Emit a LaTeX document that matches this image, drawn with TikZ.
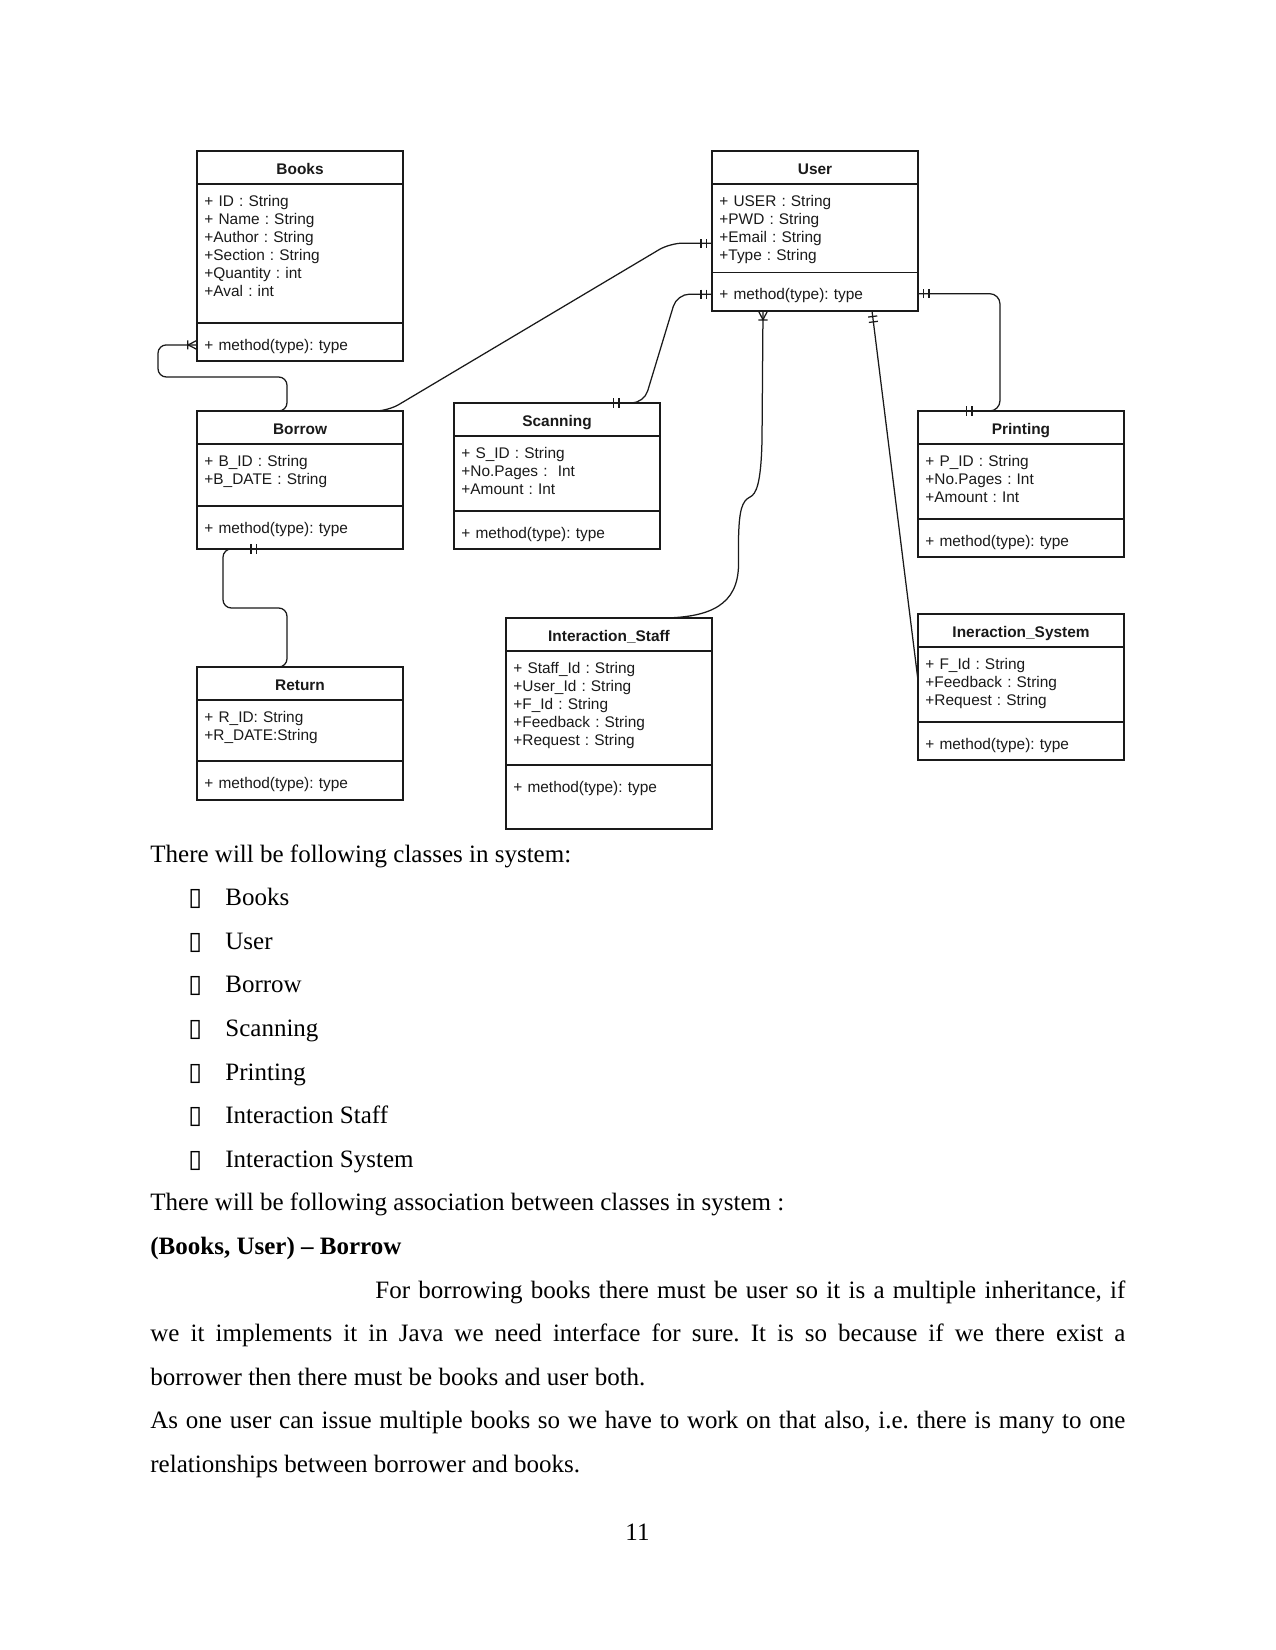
\documentclass[tikz,border=0pt]{standalone}
\usepackage{fontspec}
\setmainfont{Liberation Serif}
\newfontfamily\umlfont{Liberation Sans}
\newfontfamily\boxglyph{DejaVu Sans}
\usetikzlibrary{positioning,calc,decorations.markings}
\definecolor{ink}{HTML}{1A1A1A}
\hyphenpenalty=10000
\frenchspacing
\tikzset{
  clshead/.style={draw=ink,line width=0.6pt,outer sep=0pt,inner sep=0pt,
                  anchor=north west,minimum width=98.9pt,minimum height=15.8pt,
                  text height=7pt,text depth=0pt,text=ink,
                  font=\umlfont\bfseries\fontsize{7.4}{8.64}\selectfont},
  clsbox/.style ={draw=ink,line width=0.6pt,outer sep=0pt,inner sep=0pt,
                  minimum width=98.9pt},
  clstext/.style={anchor=base west,inner sep=0pt,text width=92pt,align=left,
                  text=ink,font=\umlfont\fontsize{7.4}{8.64}\selectfont},
  page/.style   ={anchor=base west,inner sep=0pt,text=black,
                  font=\fontsize{12}{20.9}\selectfont},
  rel/.style    ={draw=ink,line width=0.6pt},
  bars at/.style={postaction={decorate,decoration={markings,
                  mark=at position #1 with {\draw[rel,sharp corners] (0,-2.2pt) -- (0,2.2pt);}}}},
  one start/.style={bars at=2.7pt,bars at=5.3pt},
  one end/.style  ={bars at=-2.7pt,bars at=-5.3pt},
  many start/.style={postaction={decorate,decoration={markings,
                  mark=at position 4.2pt with {\draw[rel,sharp corners] (-4.2pt,2.2pt) -- (0,0) -- (-4.2pt,-2.2pt)
                  (0.2pt,-2.2pt) -- (0.2pt,2.2pt);}}}},
  many end/.style={postaction={decorate,decoration={markings,
                  mark=at position -4.2pt with {\draw[rel,sharp corners] (4.2pt,2.2pt) -- (0,0) -- (4.2pt,-2.2pt)
                  (-0.2pt,-2.2pt) -- (-0.2pt,2.2pt);}}}}
}
% name, top left, attribute height, method height (px), title, attributes
\newcommand{\umlclass}[6]{%
  \node[clshead] (#1) at #2 {#5};
  \node[clsbox,below=0pt of #1,minimum height=#3*0.48pt] (#1-a) {};
  \node[clsbox,below=0pt of #1-a,minimum height=#4*0.48pt] (#1-m) {};
  \node[clstext] (#1-at) at ($(#1-a.north west)+(7,23)$) {#6};
  \node[clstext] (#1-mt) at ($(#1-m.north west)+(7,27.5)$) {+ method(type): type};
}
\begin{document}
\begin{tikzpicture}[x=0.48pt,y=-0.48pt]
  \path[use as bounding box,fill=white] (0,0) rectangle (1275,1650);

  \umlclass{books}{(197,151)}{139}{38}{Books}{+ ID : String\\+ Name : String\\+Author : String\\+Section : String\\+Quantity : int\\+Aval : int}
  \umlclass{user}{(712,151)}{88.5}{38.5}{User}{+ USER : String\\+PWD : String\\+Email : String\\+Type : String}
  \umlclass{borrow}{(197,411)}{62}{43}{Borrow}{+ B\_ID : String\\+B\_DATE : String}
  \umlclass{scanning}{(454,403)}{75}{38}{Scanning}{+ S\_ID : String\\+No.Pages :~ Int\\+Amount : Int}
  \umlclass{printing}{(918,411)}{75}{38}{Printing}{+ P\_ID : String\\+No.Pages : Int\\+Amount : Int}
  \umlclass{staff}{(506,618)}{114}{64}{Interaction\_Staff}{+ Staff\_Id : String\\+User\_Id : String\\+F\_Id : String\\+Feedback : String\\+Request : String}
  \umlclass{system}{(918,614)}{75}{38}{Ineraction\_System}{+ F\_Id : String\\+Feedback : String\\+Request : String}
  \umlclass{return}{(197,667)}{61}{39}{Return}{+ R\_ID: String\\+R\_DATE:String}

  \draw[rel,many end,rounded corners=4pt] ($(borrow.north west)+(81,0)$) -| ($(borrow.north west)+(90,-34)$)
    -| ($(books-m.west)+(-39,3)$) -- ($(books-m.west)+(0,3)$);
  \draw[rel,one end,rounded corners=6pt] ($(borrow.north west)+(173,0)$) -- ($(borrow.north west)+(191,0)$)
    -- ($(user-a.west)+(-42,15)$) -- ($(user-a.west)+(0,15)$);
  \draw[rel,one start,one end,rounded corners=6pt] ($(user-m.west)+(0,2.5)$) -- ($(user-m.west)+(-35,2.5)$)
    -- ($(scanning.north west)+(190,0)$) -- ($(scanning.north west)+(154,0)$);
  \draw[rel,one start,one end,rounded corners=5pt] ($(user-m.east)+(0,2)$) -| ($(printing.north west)+(82,0)$)
    -- ($(printing.north west)+(43,0)$);
  \draw[rel,many start] ($(user-m.south west)+(51,0)$) -- (762,440)
    .. controls (761,485) and (756,494) .. (750,497)
    .. controls (742,501) and (739,510) .. (738.5,540) -- (738.5,565)
    .. controls (738,605) and (710,617) .. ($(staff.north west)+(159,0)$);
  \draw[rel,one start] ($(user-m.south west)+(160,0)$) -- ($(system-a.west)+(0,-4)$);
  \draw[rel,one end,rounded corners=4pt] ($(return.north west)+(81,0)$) -| ($(return.north west)+(90,-59)$)
    -| ($(borrow-m.south west)+(26,0)$) -- ($(borrow-m.south west)+(65,0)$);

  \node[page] (intro) at (150,862) {There will be following classes in system:};
  \foreach \cls [count=\i from 1] in {Books,User,Borrow,Scanning,Printing,Interaction Staff,Interaction System}{
    \node[page] (mark-\i) at (188,862+43.6*\i) {\boxglyph ▯};
    \node[page] (item-\i) at (225,862+43.6*\i) {\cls};
  }
  \node[page] (assoc) at (150,1210.8) {There will be following association between classes in system :};
  \node[page,font=\bfseries\fontsize{12}{20.9}\selectfont] (pair) at (150,1254.4) {(Books, User) – Borrow};
  \node[page,text width=468pt,align=justify] (para1) at (150,1298) {\hspace*{108pt}For borrowing books there must be user so it is a multiple inheritance, if\linebreak
    we it implements it in Java we need interface for sure. It is so because if we there exist a\linebreak
    borrower then there must be books and user both.};
  \node[page,text width=468pt,align=justify] (para2) at (150,1428.8) {As one user can issue multiple books so we have to work on that also, i.e. there is many to one\linebreak
    relationships between borrower and books.};
  \node[page,anchor=base] (pageno) at (637.5,1540) {11};
\end{tikzpicture}
\end{document}
